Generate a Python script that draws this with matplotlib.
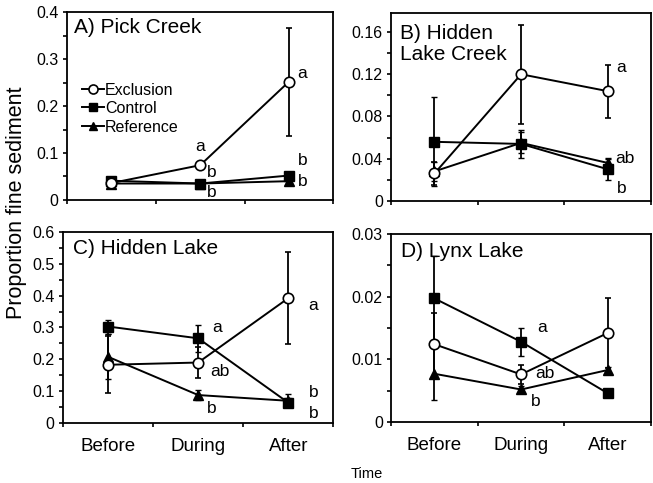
import matplotlib
matplotlib.use("Agg")
import matplotlib.pyplot as plt
from matplotlib.lines import Line2D
from matplotlib.ticker import MultipleLocator, FixedLocator

plt.rcParams['font.family'] = ['Liberation Sans', 'DejaVu Sans']

periods = ["Before", "During", "After"]
series_names = ["Exclusion", "Control", "Reference"]

# Panel A) Pick Creek
a_excl = [0.036, 0.074, 0.252]
a_excl_err = [0.004, 0.006, 0.115]
a_ctrl = [0.041, 0.035, 0.052]
a_ctrl_err = [0.004, 0.004, 0.006]
a_ref = [0.035, 0.035, 0.040]
a_ref_err = [0.003, 0.003, 0.004]

# Panel B) Hidden Lake Creek
b_excl = [0.026, 0.120, 0.104]
b_excl_err = [0.011, 0.047, 0.025]
b_ctrl = [0.056, 0.054, 0.030]
b_ctrl_err = [0.042, 0.013, 0.010]
b_ref = [0.028, 0.055, 0.036]
b_ref_err = [0.009, 0.010, 0.005]

# Panel C) Hidden Lake
c_excl = [0.183, 0.190, 0.392]
c_excl_err = [0.090, 0.050, 0.145]
c_ctrl = [0.303, 0.266, 0.064]
c_ctrl_err = [0.022, 0.042, 0.015]
c_ref = [0.208, 0.088, 0.070]
c_ref_err = [0.070, 0.015, 0.020]

# Panel D) Lynx Lake
d_excl = [0.0124, 0.0076, 0.0142]
d_excl_err = [0.0050, 0.0015, 0.0055]
d_ctrl = [0.0197, 0.0128, 0.0046]
d_ctrl_err = [0.0068, 0.0022, 0.0006]
d_ref = [0.0077, 0.0052, 0.0083]
d_ref_err = [0.0042, 0.0005, 0.0005]

panels = [
    dict(title="A) Pick Creek", rect=[0.1026, 0.586, 0.408, 0.389], ylim=0.4, major=0.1, minor=0.05,
         fmt=lambda v: "0" if v == 0 else f"{v:.1f}",
         excl=(a_excl, a_excl_err), ctrl=(a_ctrl, a_ctrl_err), ref=(a_ref, a_ref_err),
         tpos=(0.025, 0.92), tva='center',
         letters=[("a", 1.5, 0.113), ("b", 1.63, 0.058), ("b", 1.63, 0.015),
                  ("a", 2.65, 0.27), ("b", 2.65, 0.083), ("b", 2.65, 0.04)],
         xlabels=False, legend=True),
    dict(title="B) Hidden\nLake Creek", rect=[0.599, 0.584, 0.398, 0.389], ylim=0.178, major=0.04, minor=0.02,
         fmt=lambda v: "0" if v == 0 else f"{v:.2f}",
         excl=(b_excl, b_excl_err), ctrl=(b_ctrl, b_ctrl_err), ref=(b_ref, b_ref_err),
         tpos=(0.035, 0.835), tva='center',
         letters=[("a", 2.66, 0.126), ("ab", 2.7, 0.04), ("b", 2.66, 0.012)],
         xlabels=False, legend=False),
    dict(title="C) Hidden Lake", rect=[0.0965, 0.124, 0.414, 0.396], ylim=0.6, major=0.1, minor=0.05,
         fmt=lambda v: "0" if v == 0 else f"{v:.1f}",
         excl=(c_excl, c_excl_err), ctrl=(c_ctrl, c_ctrl_err), ref=(c_ref, c_ref_err),
         tpos=(0.037, 0.912), tva='center',
         letters=[("a", 1.71, 0.30), ("ab", 1.74, 0.163), ("b", 1.65, 0.047),
                  ("a", 2.78, 0.37), ("b", 2.78, 0.097), ("b", 2.78, 0.031)],
         xlabels=True, legend=False),
    dict(title="D) Lynx Lake", rect=[0.599, 0.126, 0.398, 0.390], ylim=0.03, major=0.01, minor=0.005,
         fmt=lambda v: "0" if v == 0 else f"{v:.2f}",
         excl=(d_excl, d_excl_err), ctrl=(d_ctrl, d_ctrl_err), ref=(d_ref, d_ref_err),
         tpos=(0.038, 0.905), tva='center',
         letters=[("a", 1.74, 0.015), ("ab", 1.78, 0.0078), ("b", 1.67, 0.0033)],
         xlabels=True, legend=False),
]

fig = plt.figure(figsize=(6.53, 4.83), dpi=100)
xs = [0.5, 1.5, 2.5]
lw = 1.4
for p in panels:
    ax = fig.add_axes(p["rect"])
    ctrl, ctrl_err = p["ctrl"]
    ref, ref_err = p["ref"]
    excl, excl_err = p["excl"]
    ax.errorbar(xs, ctrl, yerr=ctrl_err, color='black', lw=lw, elinewidth=1.3, capsize=2,
                marker='s', ms=6.5, mfc='black', mec='black', zorder=3)
    ax.errorbar(xs, ref, yerr=ref_err, color='black', lw=lw, elinewidth=1.3, capsize=2,
                marker='^', ms=6.5, mfc='black', mec='black', zorder=3)
    ax.errorbar(xs, excl, yerr=excl_err, color='black', lw=lw, elinewidth=1.3, capsize=2,
                marker='o', ms=7.5, mfc='white', mec='black', mew=1.2, zorder=4)
    ax.set_xlim(0, 3)
    ax.set_ylim(0, p["ylim"])
    ax.xaxis.set_major_locator(FixedLocator(xs))
    ax.xaxis.set_minor_locator(FixedLocator([0, 1, 2, 3]))
    ax.tick_params(axis='x', which='major', length=0, pad=11, labelsize=13.5)
    ax.tick_params(axis='x', which='minor', length=3, width=1.2, direction='out')
    if p["xlabels"]:
        ax.set_xticklabels(periods)
    else:
        ax.set_xticklabels([])
    ax.yaxis.set_major_locator(MultipleLocator(p["major"]))
    ax.yaxis.set_minor_locator(MultipleLocator(p["minor"]))
    ax.yaxis.set_major_formatter(plt.FuncFormatter(lambda v, pos, f=p["fmt"]: f(round(v, 6))))
    ax.tick_params(axis='y', which='both', length=3, width=1.2, direction='out', labelsize=11.5, pad=3)
    for s in ax.spines.values():
        s.set_linewidth(1.3)
    ax.text(p["tpos"][0], p["tpos"][1], p["title"], transform=ax.transAxes,
            ha='left', va=p["tva"], fontsize=15, linespacing=1.12)
    for txt, x, y in p["letters"]:
        ax.text(x, y, txt, ha='center', va='center', fontsize=12.5)
    if p["legend"]:
        handles = [
            Line2D([], [], color='black', lw=lw, marker='o', ms=6.5, mfc='white', mec='black', mew=1.2),
            Line2D([], [], color='black', lw=lw, marker='s', ms=5.5, mfc='black', mec='black'),
            Line2D([], [], color='black', lw=lw, marker='^', ms=5.5, mfc='black', mec='black'),
        ]
        ax.legend(handles, series_names, loc='upper left',
                  bbox_to_anchor=(0.055, 0.625), frameon=False, fontsize=11.5,
                  borderaxespad=0, borderpad=0, handletextpad=0.05, handlelength=1.4,
                  labelspacing=0.22)

fig.text(0.026, 0.58, "Proportion fine sediment", rotation=90, ha='center', va='center', fontsize=15.5)
fig.text(0.562, 0.019, "Time", ha='center', va='center', fontsize=10.5)

fig.savefig("out.png", dpi=100)
